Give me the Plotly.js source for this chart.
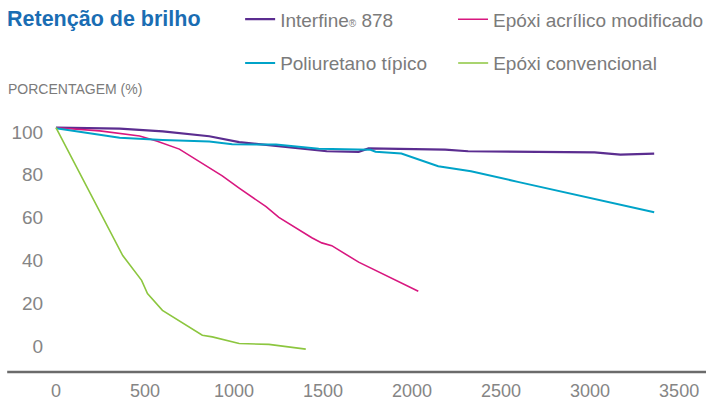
<!DOCTYPE html>
<html>
<head>
<meta charset="utf-8">
<script src="https://cdn.plot.ly/plotly-3.0.1.min.js"></script>
<style>html,body{margin:0;padding:0;background:#fff;}#chart{width:709px;height:401px;}</style>
</head>
<body>
<div id="chart"></div>
<script>
// Series names
const seriesNames = ["Interfine<span style=\"font-size:10px\">®</span> 878", "Epóxi acrílico modificado", "Poliuretano típico", "Epóxi convencional"];

// Interfine 878
const interfineX = [0, 358, 600, 861, 1029, 1180, 1420, 1521, 1700, 1756, 2186, 2315, 3025, 3170, 3360];
const interfineY = [102, 101.6, 100.3, 98.0, 95.3, 94.0, 92.2, 91.0, 90.7, 92.3, 91.8, 91.0, 90.5, 89.4, 89.9];

// Poliuretano típico
const poliX = [0, 358, 600, 861, 990, 1236, 1476, 1767, 1795, 1940, 2147, 2331, 2594, 3360];
const poliY = [101.7, 97.3, 96.3, 95.5, 94.3, 94.1, 92.2, 91.7, 90.8, 89.9, 84.0, 81.7, 76.7, 62.5];

// Epóxi acrílico modificado
const acrilX = [0, 246, 470, 565, 693, 805, 934, 1029, 1180, 1252, 1437, 1493, 1549, 1700, 2035];
const acrilY = [102, 100.5, 98.1, 95.8, 92.0, 86.0, 79.5, 73.8, 65.1, 60.1, 50.6, 48.2, 46.9, 39.2, 25.6];

// Epóxi convencional
const convX = [0, 375, 481, 514, 598, 626, 822, 878, 1029, 1196, 1403];
const convY = [102, 42.3, 30.7, 24.5, 16.7, 15.2, 5.1, 4.3, 1.2, 0.8, -1.4];

// Axis ticks
const xTicks = [0, 500, 1000, 1500, 2000, 2500, 3000, 3500];
const yTicks = [0, 20, 40, 60, 80, 100];

const colors = {interfine: "#5b2d90", acril: "#d8177f", poli: "#00a3c8", conv: "#8cc63f"};
const FONT = "Liberation Sans, Arial, sans-serif";

const traces = [
  {x: interfineX, y: interfineY, name: seriesNames[0], mode: "lines", line: {color: colors.interfine, width: 2.2}, legend: "legend"},
  {x: acrilX, y: acrilY, name: seriesNames[1], mode: "lines", line: {color: colors.acril, width: 1.6}, legend: "legend2"},
  {x: poliX, y: poliY, name: seriesNames[2], mode: "lines", line: {color: colors.poli, width: 2}, legend: "legend3"},
  {x: convX, y: convY, name: seriesNames[3], mode: "lines", line: {color: colors.conv, width: 1.6}, legend: "legend4"}
];

const legendCommon = {
  orientation: "h", xanchor: "left", yanchor: "middle",
  font: {family: FONT, size: 19, color: "#7b7b7b"},
  bgcolor: "rgba(0,0,0,0)", borderwidth: 0, itemwidth: 30
};
const col1 = (241 - 50) / 659, col2 = (455 - 50) / 659;
const row1 = 1 + 92 / 262, row2 = 1 + 48 / 262;

const layout = {
  width: 709, height: 401,
  margin: {l: 50, r: 0, t: 110, b: 29},
  paper_bgcolor: "#fff", plot_bgcolor: "#fff",
  font: {family: FONT, color: "#808080"},
  showlegend: true,
  title: {
    text: "<b>Retenção de brilho</b>",
    font: {family: FONT, size: 21.5, color: "#1a6db3"},
    x: 7 / 709, xref: "container", xanchor: "left",
    y: 1 - 18 / 401, yref: "container", yanchor: "middle"
  },
  legend: Object.assign({}, legendCommon, {x: col1, y: row1}),
  legend2: Object.assign({}, legendCommon, {x: col2, y: row1}),
  legend3: Object.assign({}, legendCommon, {x: col1, y: row2}),
  legend4: Object.assign({}, legendCommon, {x: col2, y: row2}),
  xaxis: {
    range: [-33.5, 3651], tickvals: xTicks, ticktext: xTicks.map(String),
    showgrid: false, zeroline: false, showline: false,
    ticks: "outside", ticklen: 2, tickcolor: "rgba(0,0,0,0)",
    tickfont: {family: FONT, size: 18, color: "#858585"}
  },
  yaxis: {
    range: [-12.1, 109.8], tickvals: yTicks, ticktext: yTicks.map(String),
    showgrid: false, zeroline: false, showline: false,
    ticks: "outside", ticklen: 2, tickcolor: "rgba(0,0,0,0)",
    tickfont: {family: FONT, size: 19, color: "#858585"}
  },
  shapes: [{
    type: "line", xref: "paper", yref: "paper",
    x0: (7 - 50) / 659, x1: 1, y0: 0, y1: 0,
    line: {color: "#6b6b6b", width: 2.5}
  }],
  annotations: [{
    text: "PORCENTAGEM (%)", xref: "paper", yref: "paper",
    x: (6 - 50) / 659, y: 1 + 22 / 262, xanchor: "left", yanchor: "middle",
    showarrow: false, font: {family: FONT, size: 14, color: "#7b7b7b"}
  }]
};

Plotly.newPlot("chart", traces, layout, {displayModeBar: false, staticPlot: true});
</script>
</body>
</html>
